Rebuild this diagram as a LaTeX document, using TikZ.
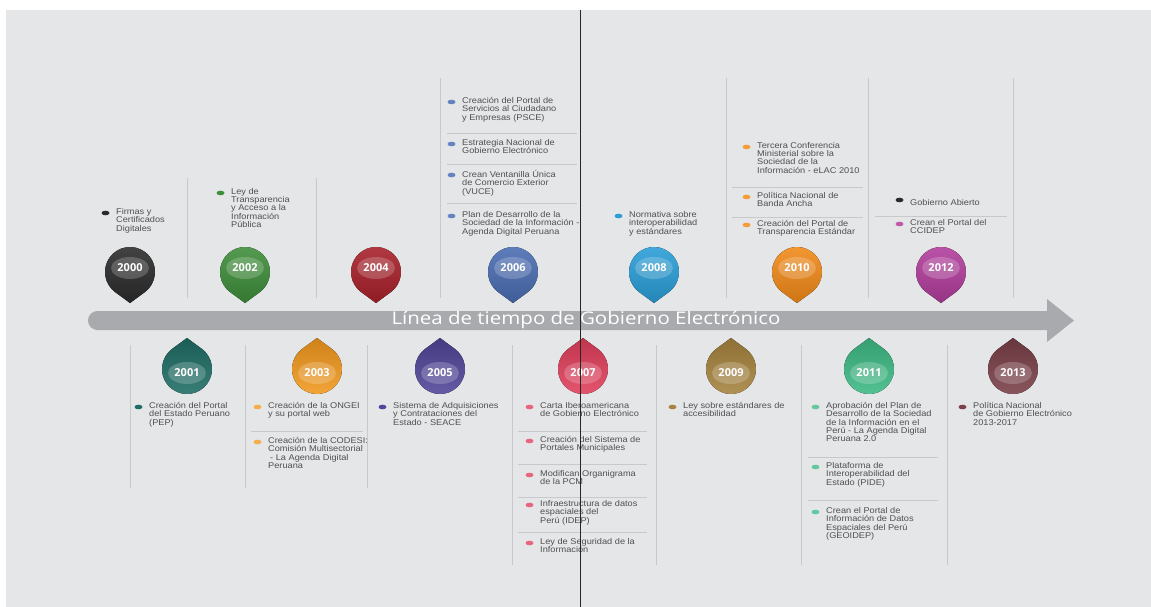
\documentclass[tikz,border=0pt]{standalone}
\usepackage{fontspec}
\setmainfont{Liberation Sans}
\newfontfamily\textofont{Liberation Sans}[FakeStretch=1.1]
\newfontfamily\anyofont{Open Sans}
\newfontfamily\titulofont{Open Sans}[FakeStretch=1.175]
\usetikzlibrary{positioning,calc}

\definecolor{fondo}{HTML}{E5E6E8}
\definecolor{flecha}{HTML}{A9AAAD}
\definecolor{textogris}{HTML}{505050}
\definecolor{lineagris}{HTML}{C8C9CB}
\definecolor{c2000}{HTML}{2B2B2B}
\definecolor{c2001}{HTML}{1F6E66}
\definecolor{c2002}{HTML}{3E8E3A}
\definecolor{c2003}{HTML}{F39A1E}
\definecolor{c2004}{HTML}{A8202A}
\definecolor{c2005}{HTML}{51469A}
\definecolor{c2006}{HTML}{4A6DB3}
\definecolor{c2007}{HTML}{E2405C}
\definecolor{c2008}{HTML}{2A9ED8}
\definecolor{c2009}{HTML}{A7843F}
\definecolor{c2010}{HTML}{F38A18}
\definecolor{c2011}{HTML}{3EBB85}
\definecolor{c2012}{HTML}{B23D9D}
\definecolor{c2013}{HTML}{7B4049}

\tikzset{
  texto/.style={anchor=north west,inner sep=0pt,align=left,text=textogris,
    font=\textofont\fontsize{8.4}{8.4}\selectfont,
    execute at begin node={\rule{0pt}{10bp}}},
  anio/.style={inner sep=0pt,text=white,font=\anyofont\bfseries\fontsize{11}{11}\selectfont},
  titulo/.style={inner sep=0pt,text=white,font=\titulofont\fontsize{17.5}{17.5}\selectfont},
  sep/.style={draw=lineagris,line width=0.7bp}
}
% small leaf bullet in front of each entry
\newcommand\vineta[2]{\fill[#2] ([xshift=-10.5bp,yshift=-5bp]#1.north west) ellipse[x radius=4,y radius=2.3];}

\begin{document}
\begin{tikzpicture}[x=1bp,y=-1bp]
 \useasboundingbox (0,0) rectangle (1151,607);
 \fill[white] (0,0) rectangle (1151,607);
 \fill[fondo] (6,10) rectangle (1151,607);

 % column rules
 \foreach \x in {187,316} \draw[sep] (\x,178) -- (\x,298);
 \foreach \x in {440,580,726,868,1013} \draw[sep] (\x,78) -- (\x,298);
 \foreach \x in {130,245,367} \draw[sep] (\x,345) -- (\x,488);
 \foreach \x in {512,656,801,947} \draw[sep] (\x,345) -- (\x,565);

 % rules between entries of the same year
 \foreach \y in {133,164,203} \draw[sep] (447,\y) -- (577,\y);
 \foreach \y in {187,217} \draw[sep] (732,\y) -- (863,\y);
 \draw[sep] (875,216) -- (1007,216);
 \draw[sep] (251,431) -- (363,431);
 \foreach \y in {431,464,497,532} \draw[sep] (518,\y) -- (647,\y);
 \foreach \y in {457,500} \draw[sep] (808,\y) -- (938,\y);

 % the time arrow
 \fill[flecha,rounded corners=9.5] (88,311) rectangle (1060,330);
 \fill[flecha] (1047,299) -- (1074,320.5) -- (1047,342) -- cycle;
 \node[titulo] (titulo) at (586,320) {Línea de tiempo de Gobierno Electrónico};

 % drops above the arrow (even years)
 \foreach \x/\c/\a in {130/c2000/2000,245/c2002/2002,376/c2004/2004,513/c2006/2006,
   654/c2008/2008,797/c2010/2010,941/c2012/2012}{
  \fill[top color=\c!88!white,bottom color=\c!85!black]
   ([shift={(90:31)}]\x,272) -- ([shift={(126.2:25)}]\x,272)
   arc[start angle=126.2,end angle=413.8,radius=25] -- cycle;
  \fill[white,opacity=0.2] (\x,268) ellipse[x radius=19,y radius=11];
  \node[anio] (a\a) at (\x,268) {\a};
 }
 % drops below the arrow (odd years)
 \foreach \x/\c/\a in {187/c2001/2001,317/c2003/2003,440/c2005/2005,583/c2007/2007,
   731/c2009/2009,869/c2011/2011,1013/c2013/2013}{
  \fill[top color=\c!85!black,bottom color=\c!88!white]
   ([shift={(-90:31)}]\x,369) -- ([shift={(-53.8:25)}]\x,369)
   arc[start angle=-53.8,end angle=233.8,radius=25] -- cycle;
  \fill[white,opacity=0.2] (\x,373) ellipse[x radius=19,y radius=11];
  \node[anio] (a\a) at (\x,373) {\a};
 }

 % entries, top row
 \node[texto] (t2000) at (116,208) {Firmas y\\Certificados\\Digitales};
 \node[texto] (t2002) at (231,188) {Ley de\\Transparencia\\y Acceso a la\\Información\\Pública};
 \node[texto] (t2006a) at (462,97) {Creación del Portal de\\Servicios al Ciudadano\\y Empresas (PSCE)};
 \node[texto] (t2006b) at (462,139) {Estrategia Nacional de\\Gobierno Electrónico};
 \node[texto] (t2006c) at (462,170) {Crean Ventanilla Única\\de Comercio Exterior\\(VUCE)};
 \node[texto] (t2006d) at (462,211) {Plan de Desarrollo de la\\Sociedad de la Información -\\Agenda Digital Peruana};
 \node[texto] (t2008) at (629,211) {Normativa sobre\\interoperabilidad\\y estándares};
 \node[texto] (t2010a) at (757,142) {Tercera Conferencia\\Ministerial sobre la\\Sociedad de la\\Información - eLAC 2010};
 \node[texto] (t2010b) at (757,192) {Política Nacional de\\Banda Ancha};
 \node[texto] (t2010c) at (757,220) {Creación del Portal de\\Transparencia Estándar};
 \node[texto] (t2012a) at (910,195) {Gobierno Abierto};
 \node[texto] (t2012b) at (910,219) {Crean el Portal del\\CCIDEP};

 % entries, bottom row
 \node[texto] (t2001) at (149,402) {Creación del Portal\\del Estado Peruano\\(PEP)};
 \node[texto] (t2003a) at (268,402) {Creación de la ONGEI\\y su portal web};
 \node[texto] (t2003b) at (268,437) {Creación de la CODESI:\\Comisión Multisectorial\\\hspace*{2bp}- La Agenda Digital\\Peruana};
 \node[texto] (t2005) at (393,402) {Sistema de Adquisiciones\\y Contrataciones del\\Estado - SEACE};
 \node[texto] (t2007a) at (540,402) {Carta Iberoamericana\\de Gobierno Electrónico};
 \node[texto] (t2007b) at (540,436) {Creación del Sistema de\\Portales Municipales};
 \node[texto] (t2007c) at (540,470) {Modifican Organigrama\\de la PCM};
 \node[texto] (t2007d) at (540,500) {Infraestructura de datos\\espaciales del\\Perú (IDEP)};
 \node[texto] (t2007e) at (540,538) {Ley de Seguridad de la\\Información};
 \node[texto] (t2009) at (683,402) {Ley sobre estándares de\\accesibilidad};
 \node[texto] (t2011a) at (826,402) {Aprobación del Plan de\\Desarrollo de la Sociedad\\de la Información en el\\Perú - La Agenda Digital\\Peruana 2.0};
 \node[texto] (t2011b) at (826,462) {Plataforma de\\Interoperabilidad del\\Estado (PIDE)};
 \node[texto] (t2011c) at (826,507) {Crean el Portal de\\Información de Datos\\Espaciales del Perú\\(GEOIDEP)};
 \node[texto] (t2013) at (973,402) {Política Nacional\\de Gobierno Electrónico\\2013-2017};

 % bullets
 \vineta{t2000}{c2000}
 \vineta{t2002}{c2002}
 \foreach \t in {t2006a,t2006b,t2006c,t2006d} {\vineta{\t}{c2006!85!white}}
 \vineta{t2008}{c2008}
 \foreach \t in {t2010a,t2010b,t2010c} {\vineta{\t}{c2010!85!white}}
 \vineta{t2012a}{c2000}
 \vineta{t2012b}{c2012!85!white}
 \vineta{t2001}{c2001}
 \foreach \t in {t2003a,t2003b} {\vineta{\t}{c2003!80!white}}
 \vineta{t2005}{c2005}
 \foreach \t in {t2007a,t2007b,t2007c,t2007d,t2007e} {\vineta{\t}{c2007!80!white}}
 \vineta{t2009}{c2009}
 \foreach \t in {t2011a,t2011b,t2011c} {\vineta{\t}{c2011!80!white}}
 \vineta{t2013}{c2013}

 % thin dark rule across the sheet
 \draw[line width=1.1bp,black!85] (580.5,10) -- (580.5,607);
\end{tikzpicture}
\end{document}
